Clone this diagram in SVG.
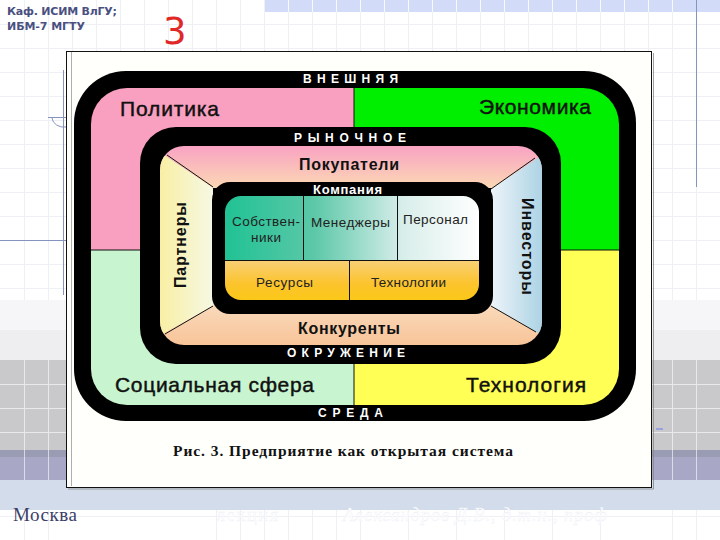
<svg xmlns="http://www.w3.org/2000/svg" width="720" height="540" viewBox="0 0 720 540">
<style>
.s{font-family:"Liberation Sans",Arial,sans-serif}
.big{font-size:21px;fill:#111;stroke:#111;stroke-width:.45}
.mid{font-size:16px;font-weight:bold;fill:#111}
.ring{font-size:12px;font-weight:bold;fill:#fff}
.sm{font-size:13.500px;fill:#222}
.hd{font-family:"DejaVu Sans",sans-serif;font-size:11px;font-weight:bold;fill:#4a5080}
.g{stroke:#eef0f6;stroke-width:1}
.gw{stroke:#fff;stroke-width:1;opacity:.6}
.bl{stroke:#8494bc;stroke-width:1;fill:none}
.k{stroke:#111;stroke-width:1;fill:none}
</style>
<defs>
<linearGradient id="gTop" x1="0" y1="0" x2="0" y2="1"><stop offset="0" stop-color="#f9a3c3"/><stop offset="1" stop-color="#fbd8b4"/></linearGradient>
<linearGradient id="gBot" x1="0" y1="0" x2="0" y2="1"><stop offset="0" stop-color="#f9dcc0"/><stop offset="1" stop-color="#f8c498"/></linearGradient>
<linearGradient id="gL" x1="0" y1="0" x2="1" y2="0"><stop offset="0" stop-color="#f9ee9e"/><stop offset="1" stop-color="#f6f8e4"/></linearGradient>
<linearGradient id="gR" x1="0" y1="0" x2="1" y2="0"><stop offset="0" stop-color="#eef4fa"/><stop offset="1" stop-color="#a6d0e2"/></linearGradient>
<linearGradient id="gC" x1="0" y1="0" x2="1" y2="0"><stop offset="0" stop-color="#20c294"/><stop offset=".35" stop-color="#5cc8a8"/><stop offset=".7" stop-color="#d8eeea"/><stop offset="1" stop-color="#ffffff"/></linearGradient>
<linearGradient id="gY" x1="0" y1="0" x2="0" y2="1"><stop offset="0" stop-color="#f8d078"/><stop offset=".6" stop-color="#fcc42c"/><stop offset="1" stop-color="#fac818"/></linearGradient>
<clipPath id="cOuter"><rect x="91" y="88" width="528" height="317" rx="36"/></clipPath>
<clipPath id="cMid"><rect x="160" y="146" width="382" height="199" rx="24"/></clipPath>
<clipPath id="cIn"><rect x="225" y="196" width="254" height="104" rx="16"/></clipPath>
</defs>

<rect width="720" height="540" fill="#fff"/>
<g id="background">
<rect x="265" y="0" width="455" height="12" fill="#d2dcf8"/>
<rect x="0" y="300" width="720" height="30" fill="#f6f6f8"/>
<rect x="0" y="330" width="720" height="30" fill="#eeeef0"/>
<rect x="0" y="360" width="720" height="90" fill="#c9c9cb"/>
<rect x="0" y="450" width="720" height="7" fill="#9a9cb4"/>
<rect x="0" y="457" width="720" height="23" fill="#a8a8c6"/>
<rect x="0" y="480" width="720" height="30" fill="#d2dcea"/>
<path class="g" d="M24.500 0V300M48.500 0V300M24.500 510V540M48.500 510V540M648.500 0V300M672.500 0V300M696.500 0V300M672.500 510V540M696.500 510V540M265 24.500H720M0 24.500H265M0 48.500H720M0 72.500H66M0 96.500H66M0 120.500H66M0 144.500H66M0 168.500H66M0 192.500H66M0 216.500H66M0 264.500H66M652 72.500H720M652 96.500H720M652 120.500H720M652 144.500H720M652 168.500H720M652 192.500H720M652 216.500H720M652 240.500H720M652 264.500H720M0 288.500H720M0 516.500H720"/>
<path class="g" d="M72.500 0V51M96.500 0V51M120.500 0V51M144.500 0V51M168.500 0V51M192.500 0V51M216.500 0V51M240.500 0V51M264.500 0V51M288.500 0V51M312.500 0V51M336.500 0V51M360.500 0V51M384.500 0V51M408.500 0V51M432.500 0V51M456.500 0V51M480.500 0V51M504.500 0V51M528.500 0V51M552.500 0V51M576.500 0V51M600.500 0V51M624.500 0V51M216.500 510V540M240.500 510V540M264.500 510V540M288.500 510V540M312.500 510V540M336.500 510V540M360.500 510V540M408.500 510V540M456.500 510V540M504.500 510V540M552.500 510V540M600.500 510V540"/>
<path class="gw" d="M0 384.500H720M0 408.500H720M0 432.500H720M24.500 360V480M48.500 360V480M672.500 360V480M696.500 360V480M288.500 0V12M312.500 0V12M336.500 0V12M360.500 0V12M384.500 0V12M408.500 0V12M432.500 0V12M456.500 0V12M480.500 0V12M504.500 0V12M528.500 0V12M552.500 0V12M576.500 0V12M600.500 0V12M624.500 0V12M648.500 0V12M672.500 0V12M696.500 0V12"/>
<path class="bl" d="M696.500 0V187M63.500 70V295M0 240.500H66M48 117.500H66M52 118A12 10 0 0 0 66 127"/>
<path d="M656 429H663" stroke="#9aa0e0" stroke-width="2"/>
</g>

<g id="picture-frame">
<rect x="66.500" y="51.500" width="585" height="436" fill="#fffffb" stroke="#111" stroke-width="1"/>
<path d="M71.500 52V486" stroke="#777" stroke-width=".6"/>
<path d="M653.500 53V489H68" fill="none" stroke="#888" stroke-width=".8"/>
</g>

<g id="outer-ring">
<rect x="74" y="71" width="562" height="350" rx="52" fill="#000"/>
<g clip-path="url(#cOuter)">
<rect x="91" y="88" width="263" height="162" fill="#f9a0c0"/>
<rect x="354" y="88" width="265" height="162" fill="#00ee00"/>
<rect x="91" y="250" width="263" height="155" fill="#c8f5d0"/>
<rect x="354" y="250" width="265" height="155" fill="#ffff55"/>
</g>
<text class="s ring" x="303" y="83" textLength="95">ВНЕШНЯЯ</text>
<text class="s ring" x="318" y="417" textLength="65">СРЕДА</text>
</g>
<g id="politics"><text class="s big" x="120" y="116" textLength="99">Политика</text></g>
<g id="economy"><text class="s big" x="479" y="114" textLength="112">Экономика</text></g>
<g id="society"><text class="s big" x="115" y="392" textLength="199">Социальная сфера</text></g>
<g id="technology"><text class="s big" x="466" y="392" textLength="120">Технология</text></g>

<g id="middle-ring">
<rect x="140" y="127" width="421" height="237" rx="36" fill="#000"/>
<g clip-path="url(#cMid)">
<rect x="160" y="146" width="382" height="42" fill="url(#gTop)"/>
<rect x="160" y="300" width="382" height="45" fill="url(#gBot)"/>
<polygon points="155,149 213,188 213,306 155,338" fill="url(#gL)"/>
<polygon points="547,152 491,189 491,306 547,338" fill="url(#gR)"/>
</g>
<text class="s ring" x="294" y="142" textLength="112">РЫНОЧНОЕ</text>
<text class="s ring" x="287" y="357" textLength="118">ОКРУЖЕНИЕ</text>
</g>
<g id="buyers"><text class="s mid" x="299" y="170" textLength="100">Покупатели</text></g>
<g id="competitors"><text class="s mid" x="298" y="334" textLength="102">Конкуренты</text></g>
<g id="partners"><text class="s mid" transform="translate(186 288) rotate(-90)" textLength="86">Партнеры</text></g>
<g id="investors"><text class="s mid" transform="translate(522 198) rotate(90)" textLength="97">Инвесторы</text></g>

<g id="company">
<rect x="212" y="182" width="281" height="132" rx="18" fill="#000"/>
<g clip-path="url(#cIn)">
<rect x="225" y="196" width="254" height="64" fill="url(#gC)"/>
<rect x="225" y="260" width="254" height="40" fill="url(#gY)"/>
</g>
<text class="s" x="313" y="194" font-size="13" font-weight="bold" fill="#fff" textLength="69">Компания</text>
</g>
<g id="owners"><text class="s sm" x="232" y="226" textLength="68">Собствен-</text><text class="s sm" x="251" y="242" textLength="30">ники</text></g>
<g id="managers"><text class="s sm" x="311" y="227" textLength="79">Менеджеры</text></g>
<g id="staff"><text class="s sm" x="403" y="224" textLength="65">Персонал</text></g>
<g id="resources"><text class="s sm" x="256" y="287" textLength="57">Ресурсы</text></g>
<g id="tech"><text class="s sm" x="371" y="287" textLength="75">Технологии</text></g>

<g id="connectors">
<path class="k" d="M354 88V127M354 364V405M91 250H140M561 250H619"/>
<path class="k" d="M167 155L213 187M535 158L491 189M165 334L213 306M536 332L491 306"/>
<path class="k" d="M303.500 196V260M397.500 196V260M225 260.500H479M349.500 260V300"/>
</g>

<g id="caption"><text x="173" y="456" font-family="'Liberation Serif',serif" font-size="15.500" font-weight="bold" fill="#111" textLength="340">Рис. 3. Предприятие как открытая система</text></g>
<g id="header">
<text class="hd" x="7" y="15" textLength="110">Каф. ИСИМ ВлГУ;</text>
<text class="hd" x="7" y="30" textLength="78">ИБМ-7 МГТУ</text>
<text x="163" y="44" font-family="'DejaVu Sans',sans-serif" font-size="37" fill="#e02828">3</text>
</g>
<g id="footer">
<text x="13" y="521" font-family="'Liberation Serif',serif" font-size="19" fill="#3c4068" textLength="64">Москва</text>
<text x="216" y="521" font-family="'Liberation Serif',serif" font-size="18" fill="#fff" stroke="#eef0f6" stroke-width=".4" textLength="62">лекция</text>
<text x="343" y="521" font-family="'Liberation Serif',serif" font-size="18" font-style="italic" fill="#fff" stroke="#eef0f6" stroke-width=".4" textLength="264">Александров Д.В., д.т.н., проф</text>
</g>
</svg>
